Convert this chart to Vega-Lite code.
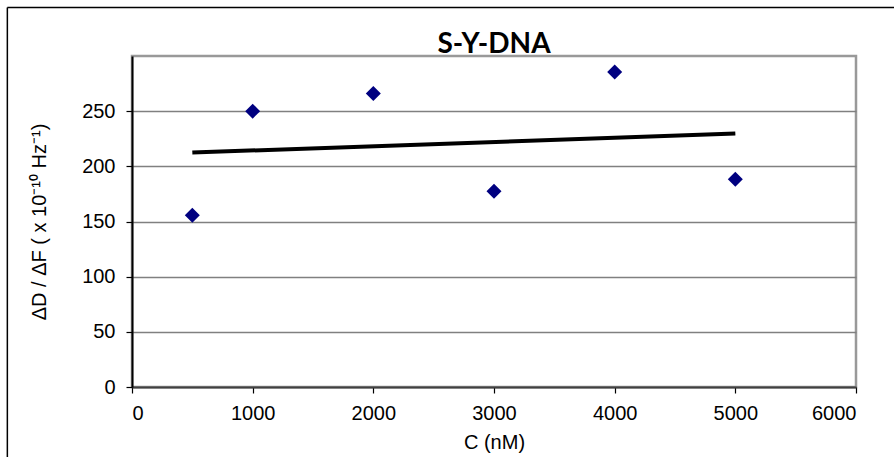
{
  "$schema": "https://vega.github.io/schema/vega-lite/v6.json",
  "width": 724,
  "height": 331,
  "autosize": {"type": "none"},
  "padding": {"left": 132, "top": 56, "right": 38, "bottom": 70},
  "background": "white",
  "title": {"text": "S-Y-DNA", "font": "Lato", "fontSize": 28, "fontWeight": "bold", "color": "black", "anchor": "middle", "frame": "group", "baseline": "alphabetic", "offset": 4, "dy": 78},
  "config": {"view": {"stroke": "#999999", "strokeWidth": 2.5}, "font": "Liberation Sans"},
  "datasets": {
    "points": [
      {"c": 500, "v": 155.6},
      {"c": 1000, "v": 250},
      {"c": 2000, "v": 265.9},
      {"c": 3000, "v": 177.4},
      {"c": 4000, "v": 285.5},
      {"c": 5000, "v": 188.3}
    ],
    "trend": [
      {"c": 500, "v": 212.5},
      {"c": 5000, "v": 229.7}
    ],
    "one": [{}]
  },
  "layer": [
    {
      "data": {"name": "points"},
      "mark": {"type": "point", "shape": "diamond", "filled": true, "size": 225, "color": "#000080", "opacity": 1},
      "encoding": {
        "x": {"field": "c", "type": "quantitative",
          "scale": {"domain": [0, 6000], "nice": false},
          "axis": {"title": "C (nM)", "values": [0, 1000, 2000, 3000, 4000, 5000, 6000], "format": "d", "grid": false,
            "domainColor": "#404040", "domainWidth": 2, "tickColor": "black", "tickSize": 6, "tickWidth": 1.2,
            "labelFont": "Liberation Sans", "labelFontSize": 20, "labelColor": "black", "labelPadding": 10,
            "titleFont": "Liberation Sans", "titleFontSize": 20, "titleFontWeight": "normal", "titleColor": "black", "titlePadding": 9}},
        "y": {"field": "v", "type": "quantitative",
          "scale": {"domain": [0, 300], "nice": false},
          "axis": {"title": "ΔD / ΔF ( x 10⁻¹⁰ Hz⁻¹)", "values": [0, 50, 100, 150, 200, 250], "format": "d",
            "grid": true, "gridColor": "#808080", "gridWidth": 1.5,
            "domainColor": "black", "domainWidth": 2, "tickColor": "black", "tickSize": 6, "tickWidth": 1.2,
            "labelFont": "Liberation Sans", "labelFontSize": 20, "labelColor": "black", "labelPadding": 11,
            "titleFont": "Liberation Sans", "titleFontSize": 20, "titleFontWeight": "normal", "titleColor": "black", "titlePadding": 32}}
      }
    },
    {
      "data": {"name": "trend"},
      "mark": {"type": "line", "color": "black", "strokeWidth": 4},
      "encoding": {
        "x": {"field": "c", "type": "quantitative"},
        "y": {"field": "v", "type": "quantitative"}
      }
    },
    {
      "data": {"name": "one"},
      "mark": {"type": "rule", "color": "black", "strokeWidth": 1.5, "clip": false},
      "encoding": {
        "x": {"datum": -1033, "type": "quantitative"},
        "x2": {"datum": 7000},
        "y": {"datum": 344, "type": "quantitative"}
      }
    },
    {
      "data": {"name": "one"},
      "mark": {"type": "rule", "color": "black", "strokeWidth": 1.5, "clip": false},
      "encoding": {
        "x": {"datum": -1033, "type": "quantitative"},
        "y": {"datum": -100, "type": "quantitative"},
        "y2": {"datum": 344}
      }
    }
  ]
}
